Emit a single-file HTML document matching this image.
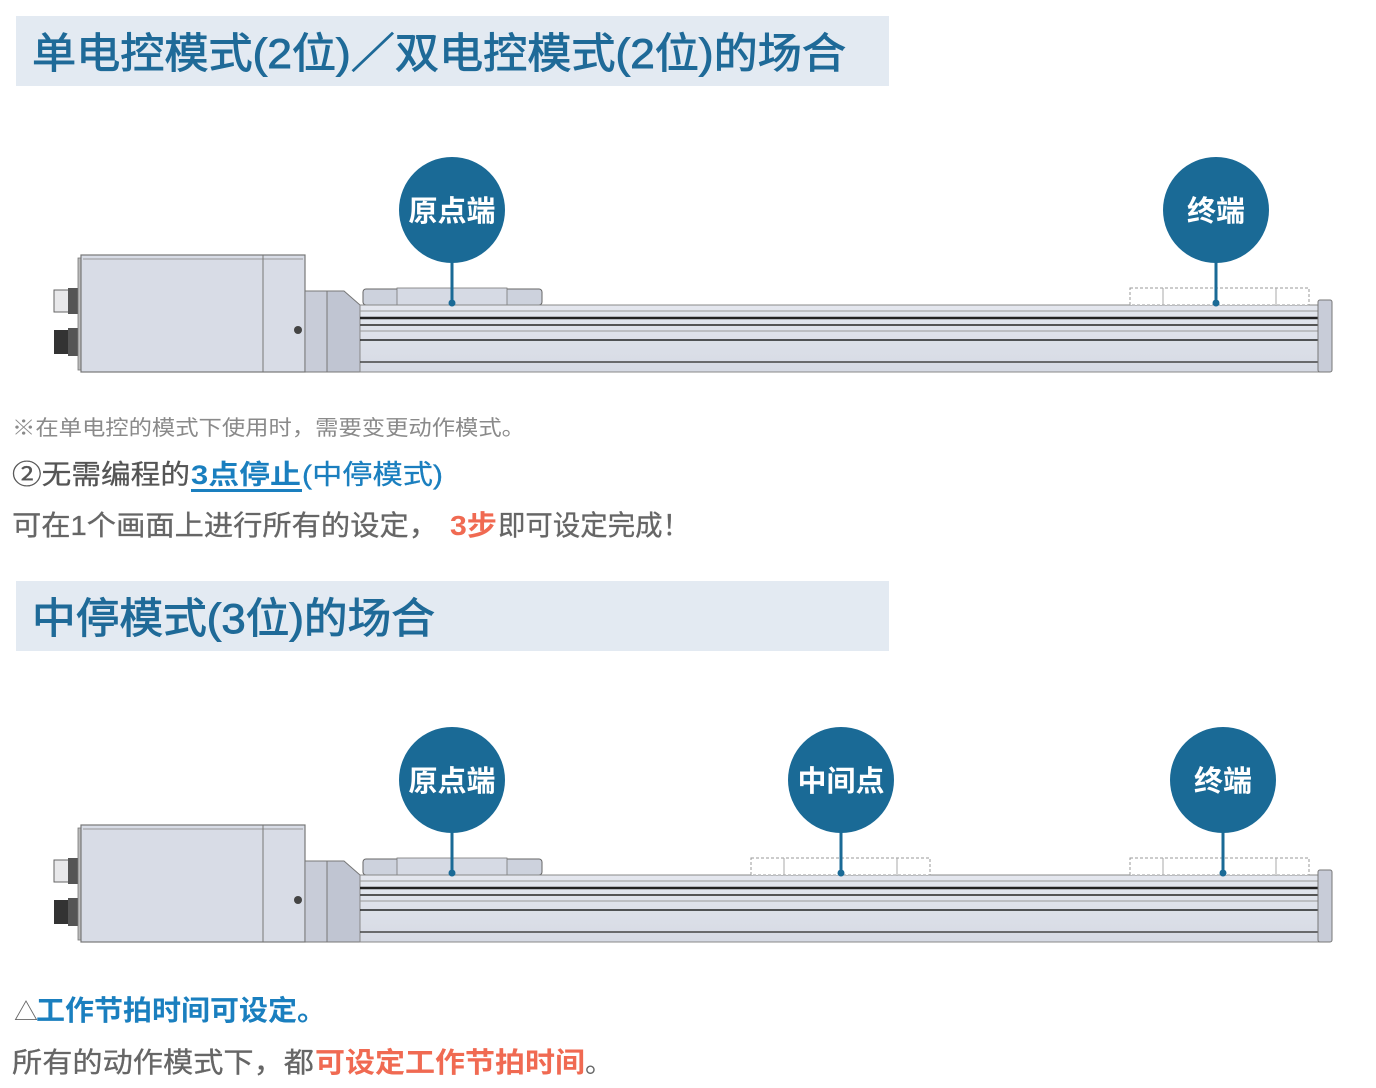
<!DOCTYPE html>
<html><head><meta charset="utf-8"><style>
html,body{margin:0;padding:0;background:#fff;}
svg{display:block;}
text{font-family:"Liberation Sans","Noto Sans CJK SC",sans-serif;}
</style></head><body>
<svg width="1376" height="1088" viewBox="0 0 1376 1088" xmlns="http://www.w3.org/2000/svg">
<defs>
<linearGradient id="rail" x1="0" y1="0" x2="0" y2="1">
<stop offset="0" stop-color="#e4e7ee"/><stop offset="1" stop-color="#d6dae4"/>
</linearGradient>
<g id="act">
  <rect x="54" y="290" width="16" height="22" fill="#e8e8ea" stroke="#666" stroke-width="1"/>
  <rect x="68" y="288" width="12" height="26" fill="#555"/>
  <rect x="54" y="330" width="16" height="24" fill="#333"/>
  <rect x="68" y="328" width="12" height="28" fill="#555"/>
  <rect x="78" y="258" width="4" height="112" fill="#bbb" stroke="#777" stroke-width="0.8"/>
  <rect x="81" y="255" width="224" height="117" fill="#d8dce6" stroke="#777" stroke-width="1.2"/>
  <line x1="83" y1="259" x2="303" y2="259" stroke="#999" stroke-width="1"/>
  <line x1="263" y1="255" x2="263" y2="372" stroke="#777" stroke-width="1"/>
  <circle cx="298" cy="330" r="4" fill="#444"/>
  <rect x="305" y="291" width="22" height="81" fill="#c8ccd8" stroke="#777" stroke-width="1"/>
  <path d="M327 291 L344 291 L360 305 L360 372 L327 372 Z" fill="#c0c5d2" stroke="#777" stroke-width="1"/>
  <rect x="363" y="289" width="179" height="16" rx="3" fill="#cdd2dd" stroke="#666" stroke-width="1"/>
  <rect x="397" y="288" width="110" height="17" fill="#d6dae4" stroke="#777" stroke-width="0.8"/>
  <rect x="360" y="305" width="962" height="67" fill="url(#rail)" stroke="#888" stroke-width="1"/>
  <line x1="360" y1="311" x2="1322" y2="311" stroke="#999" stroke-width="1"/>
  <line x1="360" y1="318" x2="1322" y2="318" stroke="#222" stroke-width="2.5"/>
  <line x1="360" y1="325" x2="1322" y2="325" stroke="#555" stroke-width="2"/>
  <line x1="360" y1="331" x2="1322" y2="331" stroke="#999" stroke-width="1"/>
  <line x1="360" y1="340" x2="1322" y2="340" stroke="#222" stroke-width="1.5"/>
  <line x1="360" y1="362" x2="1322" y2="362" stroke="#444" stroke-width="1.5"/>
  <rect x="1318" y="300" width="14" height="72" rx="2" fill="#c8ccd8" stroke="#777" stroke-width="1"/>
</g>
<g id="ghost">
  <rect x="0" y="0" width="179" height="17" fill="#fff" stroke="#999" stroke-width="1" stroke-dasharray="3,2"/>
  <line x1="33" y1="0" x2="33" y2="17" stroke="#aaa"/><line x1="146" y1="0" x2="146" y2="17" stroke="#aaa"/>
</g>
</defs>

<rect x="16" y="16" width="873" height="70" fill="#e3eaf2"/>
<text x="32" y="68" font-size="42" fill="#1f6a98" stroke="#1f6a98" stroke-width="0.9" textLength="814" lengthAdjust="spacingAndGlyphs">单电控模式(2位)／双电控模式(2位)的场合</text>

<use href="#act"/>
<use href="#ghost" x="1130" y="288"/>
<g>
  <line x1="452" y1="250" x2="452" y2="303" stroke="#1a6a96" stroke-width="3"/>
  <circle cx="452" cy="303" r="3.5" fill="#1a6a96"/>
  <circle cx="452" cy="210" r="53" fill="#1a6a96"/>
  <text x="452" y="221" font-size="29" font-weight="bold" fill="#fff" text-anchor="middle">原点端</text>
  <line x1="1216" y1="250" x2="1216" y2="303" stroke="#1a6a96" stroke-width="3"/>
  <circle cx="1216" cy="303" r="3.5" fill="#1a6a96"/>
  <circle cx="1216" cy="210" r="53" fill="#1a6a96"/>
  <text x="1216" y="221" font-size="29" font-weight="bold" fill="#fff" text-anchor="middle">终端</text>
</g>

<text x="12" y="435" font-size="21" fill="#8a8a8a" textLength="513" lengthAdjust="spacingAndGlyphs">※在单电控的模式下使用时，需要变更动作模式。</text>
<text x="12" y="484" font-size="27" fill="#555" stroke="#555" stroke-width="0.3" textLength="178" lengthAdjust="spacingAndGlyphs">②无需编程的</text>
<text x="191" y="484" font-size="27" font-weight="bold" fill="#1a7fbf" textLength="110" lengthAdjust="spacingAndGlyphs">3点停止</text>
<text x="302" y="484" font-size="27" fill="#1a7fbf" stroke="#1a7fbf" stroke-width="0.3" textLength="141" lengthAdjust="spacingAndGlyphs">(中停模式)</text>
<rect x="191" y="489" width="111" height="3" fill="#1a7fbf"/>
<text x="12" y="535" font-size="28" fill="#666" stroke="#666" stroke-width="0.3" textLength="426" lengthAdjust="spacingAndGlyphs">可在1个画面上进行所有的设定，</text>
<text x="450" y="535" font-size="28" font-weight="bold" fill="#f06a52" textLength="47" lengthAdjust="spacingAndGlyphs">3步</text>
<text x="498" y="535" font-size="28" fill="#666" stroke="#666" stroke-width="0.3" textLength="192" lengthAdjust="spacingAndGlyphs">即可设定完成！</text>

<rect x="16" y="581" width="873" height="70" fill="#e3eaf2"/>
<text x="32" y="633" font-size="42" fill="#1f6a98" stroke="#1f6a98" stroke-width="0.9" textLength="403" lengthAdjust="spacingAndGlyphs">中停模式(3位)的场合</text>

<use href="#act" y="570"/>
<use href="#ghost" x="751" y="858"/>
<use href="#ghost" x="1130" y="858"/>
<g>
  <line x1="452" y1="820" x2="452" y2="873" stroke="#1a6a96" stroke-width="3"/>
  <circle cx="452" cy="873" r="3.5" fill="#1a6a96"/>
  <circle cx="452" cy="780" r="53" fill="#1a6a96"/>
  <text x="452" y="791" font-size="29" font-weight="bold" fill="#fff" text-anchor="middle">原点端</text>
  <line x1="841" y1="820" x2="841" y2="873" stroke="#1a6a96" stroke-width="3"/>
  <circle cx="841" cy="873" r="3.5" fill="#1a6a96"/>
  <circle cx="841" cy="780" r="53" fill="#1a6a96"/>
  <text x="841" y="791" font-size="29" font-weight="bold" fill="#fff" text-anchor="middle">中间点</text>
  <line x1="1223" y1="820" x2="1223" y2="873" stroke="#1a6a96" stroke-width="3"/>
  <circle cx="1223" cy="873" r="3.5" fill="#1a6a96"/>
  <circle cx="1223" cy="780" r="53" fill="#1a6a96"/>
  <text x="1223" y="791" font-size="29" font-weight="bold" fill="#fff" text-anchor="middle">终端</text>
</g>

<text x="14" y="1020" font-size="24" fill="#666">△</text>
<text x="36" y="1020" font-size="28" font-weight="bold" fill="#1a7fbf" textLength="290" lengthAdjust="spacingAndGlyphs">工作节拍时间可设定。</text>
<text x="12" y="1072" font-size="28" fill="#666" stroke="#666" stroke-width="0.3" textLength="302" lengthAdjust="spacingAndGlyphs">所有的动作模式下，都</text>
<text x="315" y="1072" font-size="28" font-weight="bold" fill="#f06a52" textLength="270" lengthAdjust="spacingAndGlyphs">可设定工作节拍时间</text>
<text x="585" y="1072" font-size="28" fill="#666">。</text>
</svg>
</body></html>
